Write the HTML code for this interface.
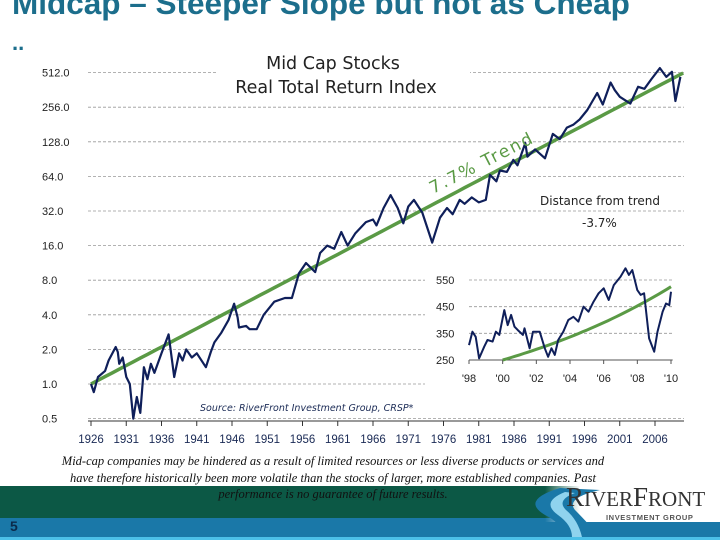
<!DOCTYPE html>
<html><head><meta charset="utf-8">
<style>
html,body{margin:0;padding:0;background:#fff;}
body{width:720px;height:540px;overflow:hidden;position:relative;font-family:"Liberation Sans",sans-serif;}
#title{position:absolute;left:12px;top:-15px;font-size:31.5px;font-weight:bold;color:#1c6e8c;white-space:nowrap;}
#dots{position:absolute;left:12px;top:30px;font-size:22px;font-weight:bold;color:#1c6e8c;}
#band1{position:absolute;left:0;top:486px;width:720px;height:32px;background:#0c5845;}
#band2{position:absolute;left:0;top:518px;width:720px;height:19px;background:#1a78a8;}
#band3{position:absolute;left:0;top:537px;width:720px;height:3px;background:#4cc0e8;}
#logoarea{position:absolute;left:545px;top:484px;width:175px;height:38px;background:linear-gradient(90deg,rgba(255,255,255,0),#fff 20%);}
#note{position:absolute;left:0px;top:453px;width:666px;text-align:center;font-family:"Liberation Serif",serif;font-style:italic;font-size:12.5px;line-height:16.5px;color:#111;white-space:nowrap;}
#pnum{position:absolute;left:10px;top:518px;font-weight:bold;font-size:14px;color:#0b2a4a;}
#rf{position:absolute;left:566px;top:482px;font-family:"Liberation Serif",serif;font-size:27px;color:#333;}
#ig{position:absolute;left:606px;top:513px;font-size:7.5px;font-weight:bold;color:#555;letter-spacing:0.6px;}
</style></head>
<body>
<div id="title">Midcap – Steeper Slope but not as Cheap</div>
<div id="dots">..</div>
<div id="band1"></div>
<div id="band2"></div>
<div id="band3"></div>
<div id="logoarea"></div>
<svg style="position:absolute;left:0;top:0" width="720" height="540">
<path d="M560 488 Q520 500 545 515 Q565 525 560 537 L600 537 Q585 520 575 510 Q565 498 600 490 Z" fill="#1a78a8"/>
<path d="M565 492 Q540 502 558 515 Q572 525 572 537 L582 537 Q578 520 566 510 Q556 500 575 493 Z" fill="#8fd3ee"/>
</svg>
<div id="rf">R<span style="font-size:21px">IVER</span>F<span style="font-size:21px">RONT</span></div>
<div id="ig">INVESTMENT GROUP</div>
<div id="note">Mid-cap companies may be hindered as a result of limited resources or less diverse products or services and<br>have therefore historically been more volatile than the stocks of larger, more established companies. Past<br>performance is no guarantee of future results.</div>
<div id="pnum">5</div>

<svg id="chart" style="position:absolute;left:0;top:0" width="720" height="484"></svg>

<script>
var yTicks=[512,256,128,64,32,16,8,4,2,1,0.5];
var yTickLabels=["512.0","256.0","128.0","64.0","32.0","16.0","8.0","4.0","2.0","1.0","0.5"];
var xTickYears=[1926,1931,1936,1941,1946,1951,1956,1961,1966,1971,1976,1981,1986,1991,1996,2001,2006];
var mainYears=[1926,1926.4,1927,1928,1928.5,1929.5,1929.8,1930,1930.5,1931,1931.5,1932,1932.5,1933,1933.5,1934,1934.5,1935,1936,1937,1937.8,1938.5,1939,1939.5,1940.3,1941,1942.3,1943,1943.5,1944.5,1945.5,1946.3,1946.8,1947,1948,1948.5,1949.5,1950.5,1952,1953.5,1954.5,1955.5,1956.5,1957.8,1958.5,1959.5,1960.5,1961.5,1962.4,1963.5,1965,1966,1966.5,1967.5,1968.5,1969.5,1970.3,1971,1971.8,1973,1974.4,1975.5,1976.5,1977.3,1978.3,1979,1980,1981,1982,1982.6,1983.5,1984,1985,1985.9,1986.5,1987.6,1987.9,1989,1990.4,1991.5,1992.5,1993.5,1994.4,1995.3,1996.4,1997.8,1998.6,1999.7,2000.3,2001,2002.5,2003.6,2004.5,2005.5,2006.7,2007.6,2008.4,2008.9,2009.6];
var mainValues=[1.0,0.85,1.15,1.3,1.6,2.1,1.9,1.5,1.7,1.15,1.0,0.5,0.77,0.56,1.4,1.1,1.5,1.25,1.85,2.7,1.15,1.85,1.6,2.0,1.7,1.85,1.4,1.9,2.3,2.8,3.6,5.0,3.8,3.1,3.2,3.0,3.0,4.0,5.2,5.6,5.6,9.2,11.3,9.4,13.8,16,15,21,16,20.5,25.6,27,24,34,44,34,25,35,40,31,17,28,34,30,40,37,42,38,40,66,58,72,70,89,80,125,95,110,92,150,135,170,180,200,242,340,270,420,360,315,275,385,370,450,560,470,520,290,470];
var trendRate=0.077, trendBase=1.0, trendStart=1926, trendEnd=2010;
var insetYears=[1998,1998.2,1998.4,1998.6,1998.9,1999.1,1999.4,1999.6,1999.8,2000.1,2000.3,2000.5,2000.7,2000.9,2001.2,2001.3,2001.6,2001.8,2002.2,2002.5,2002.7,2002.9,2003.1,2003.3,2003.6,2003.9,2004.2,2004.5,2004.8,2005.1,2005.4,2005.7,2006.0,2006.3,2006.6,2007.0,2007.3,2007.5,2007.7,2008.0,2008.2,2008.4,2008.7,2009.0,2009.2,2009.5,2009.7,2009.9,2010.0];
var insetValues=[306,356,337,256,300,325,319,356,344,437,381,419,375,362,344,369,294,356,356,294,262,294,269,325,356,400,412,394,450,431,469,500,519,475,531,562,594,569,587,512,494,500,331,281,356,431,462,456,506];
var insetTicks=[550,450,350,250];
var insetXLabels=["'98","'00","'02","'04","'06","'08","'10"];
var insetXYears=[1998,2000,2002,2004,2006,2008,2010];

var NS="http://www.w3.org/2000/svg";
var svg=document.getElementById('chart');
function mk(tag,attrs,parent){var e=document.createElementNS(NS,tag);for(var k in attrs)e.setAttribute(k,attrs[k]);(parent||svg).appendChild(e);return e;}
function X(yr){return 91+(yr-1926)*7.05;}
function Y(v){return 384-Math.log(v)/Math.LN2*34.6;}
function IX(yr){return 469+(yr-1998)*(202/12);}
function IY(v){return 280+(550-v)*(80/300);}

yTicks.forEach(function(t,i){
  var g=mk('line',{x1:88,x2:684,y1:Y(t),y2:Y(t),stroke:'#999','stroke-width':0.8,'stroke-dasharray':'3,2'});
  
  
  var tx=mk('text',{x:42,y:Y(t)+4,'font-size':11,fill:'#222','font-family':'Liberation Sans, sans-serif'});
  tx.textContent=yTickLabels[i];
  
  
});
var ax=mk('line',{x1:88,x2:684,y1:421,y2:421,stroke:'#333','stroke-width':1});


xTickYears.forEach(function(yr){
  var tk=mk('line',{x1:X(yr),x2:X(yr),y1:421,y2:426,stroke:'#333'});
  
  
  var tl=mk('text',{x:X(yr),y:443,'text-anchor':'middle','font-size':11.5,fill:'#1a2a55','font-family':'Liberation Sans, sans-serif'});
  tl.textContent=yr;
  
  
});
var tb=mk('rect',{x:216,y:50,width:254,height:48,fill:'#fff'});


var t1=mk('text',{x:333,y:69,'text-anchor':'middle','font-size':17.5,fill:'#222','font-family':'DejaVu Sans, sans-serif'});
t1.textContent='Mid Cap Stocks';


var t2=mk('text',{x:336,y:93,'text-anchor':'middle','font-size':17.5,fill:'#222','font-family':'DejaVu Sans, sans-serif'});
t2.textContent='Real Total Return Index';


var tp='';
for(var yr=trendStart;yr<=trendEnd;yr+=1){tp+=(tp?'L':'M')+X(yr).toFixed(1)+' '+Y(trendBase*Math.pow(1+trendRate,yr-trendStart)).toFixed(1);}
var tr=mk('path',{d:tp,fill:'none',stroke:'#5a9a45','stroke-width':3.5});


var mp='';
mainYears.forEach(function(yr,i){mp+=(i?'L':'M')+X(yr).toFixed(1)+' '+Y(mainValues[i]).toFixed(1);});
var ml=mk('path',{d:mp,fill:'none',stroke:'#0f1f5a','stroke-width':2.2,'stroke-linejoin':'round'});


var tl2=mk('text',{x:0,y:0,'font-size':17,fill:'#5a9a45','font-family':'DejaVu Sans, sans-serif',transform:'translate(433,194) rotate(-27)','letter-spacing':'2'});
tl2.textContent='7.7% Trend';


var d1=mk('text',{x:540,y:205,'font-size':12,fill:'#222','font-family':'DejaVu Sans, sans-serif'});
d1.textContent='Distance from trend';


var d2=mk('text',{x:582,y:227,'font-size':12,fill:'#222','font-family':'DejaVu Sans, sans-serif'});
d2.textContent='-3.7%';


var src=mk('text',{x:200,y:411,'font-size':9.5,'font-style':'italic',fill:'#1a2a55','font-family':'DejaVu Sans, sans-serif'});
src.textContent='Source: RiverFront Investment Group, CRSP*';


var ib=mk('rect',{x:425,y:264,width:262,height:132,fill:'#fff'});


insetTicks.forEach(function(t,i){
  var gl=mk('line',{x1:IX(1998),x2:IX(2010.1),y1:IY(t),y2:IY(t),stroke:i==3?'#555':'#999','stroke-width':i==3?1:0.8,'stroke-dasharray':i==3?'':'3,2'});
  
  
  var lb=mk('text',{x:436,y:IY(t)+4,'font-size':11,fill:'#222','font-family':'Liberation Sans, sans-serif'});
  lb.textContent=t;
  
  
});
insetXYears.forEach(function(yr,i){
  var tk=mk('line',{x1:IX(yr),x2:IX(yr),y1:IY(250),y2:IY(250)+4,stroke:'#555'});
  
  
  var lb=mk('text',{x:IX(yr),y:IY(250)+22,'text-anchor':'middle','font-size':11,fill:'#222','font-family':'Liberation Sans, sans-serif'});
  lb.textContent=insetXLabels[i];
  
  
});
var ip='';
for(var yy=2000;yy<=2010.1;yy+=0.25){var v=250*Math.pow(1+trendRate,yy-2000);ip+=(ip?'L':'M')+IX(yy).toFixed(1)+' '+IY(v).toFixed(1);}
var it=mk('path',{d:ip,fill:'none',stroke:'#5a9a45','stroke-width':3});


var sp='';
insetYears.forEach(function(yr,i){sp+=(i?'L':'M')+IX(yr).toFixed(1)+' '+IY(insetValues[i]).toFixed(1);});
var il=mk('path',{d:sp,fill:'none',stroke:'#0f1f5a','stroke-width':2,'stroke-linejoin':'round'});


</script>
</body></html>
